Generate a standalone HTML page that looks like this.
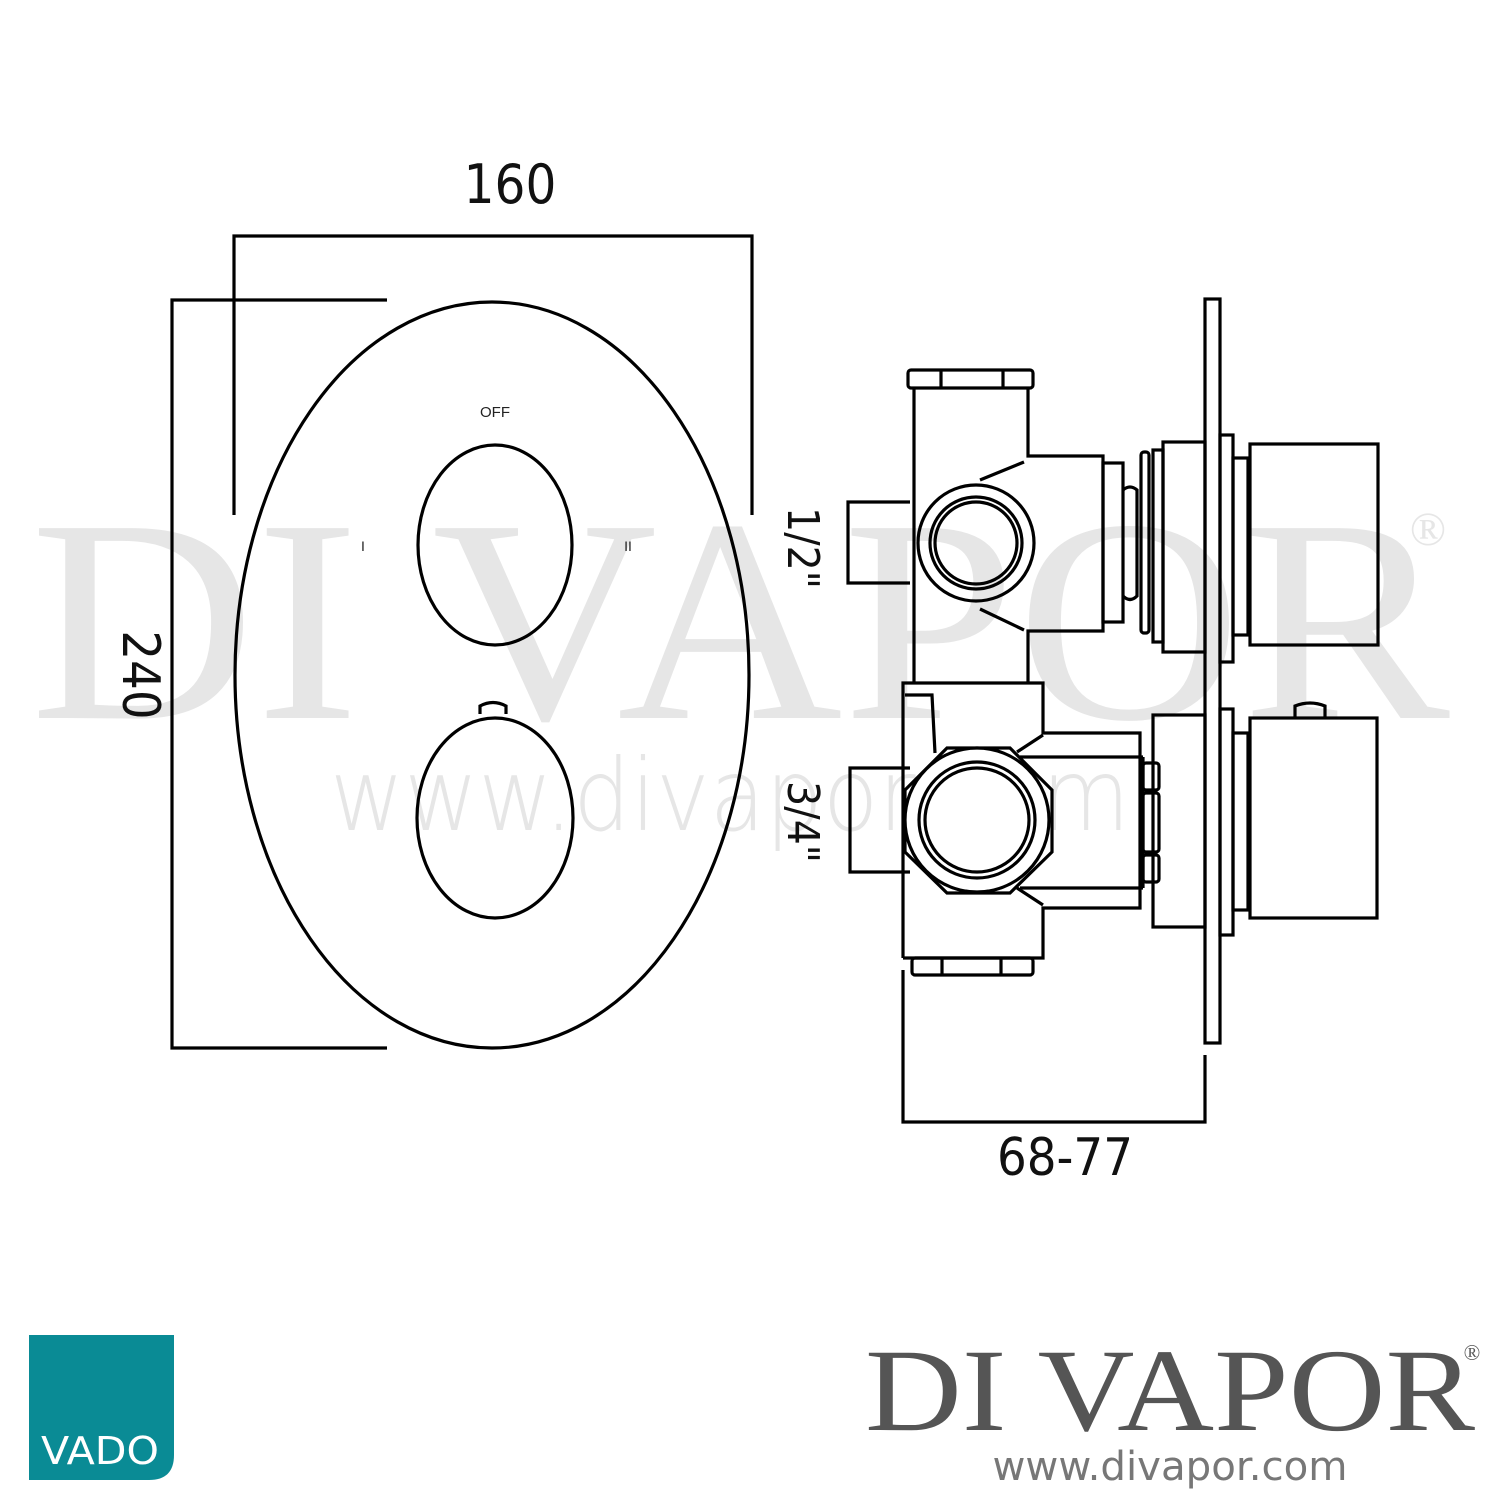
<!DOCTYPE html>
<html><head><meta charset="utf-8"><style>
html,body{margin:0;padding:0;background:#fff;width:1500px;height:1500px;overflow:hidden}
svg{display:block}
</style></head><body>
<svg width="1500" height="1500" viewBox="0 0 1500 1500" xmlns="http://www.w3.org/2000/svg">
<!-- watermark -->
<g fill="#e6e6e6" font-family="'Liberation Serif',serif">
<text x="740" y="718" font-size="290" text-anchor="middle" textLength="1420" lengthAdjust="spacingAndGlyphs">DI VAPOR</text>
<text x="1428" y="545" font-size="48" text-anchor="middle">®</text>
</g>
<text x="730" y="830" fill="#e6e6e6" font-family="'DejaVu Sans','Liberation Sans',sans-serif" font-weight="300" font-size="100" text-anchor="middle" textLength="800" lengthAdjust="spacingAndGlyphs">www.divapor.com</text>

<g fill="none" stroke="#000" stroke-width="3.2">
<!-- left dims -->
<polyline points="234,515 234,236 752,236 752,515"/>
<polyline points="387,300 172,300 172,1048 387,1048"/>
<ellipse cx="492" cy="675" rx="257" ry="373"/>
<ellipse cx="495" cy="545" rx="77" ry="100"/>
<ellipse cx="495" cy="818" rx="78" ry="100"/>
<path d="M480,714 L480,706 Q493,699 506,706 L506,714"/>

<!-- right side view -->
<rect x="1205" y="299" width="15" height="744"/>
<rect x="908" y="370" width="125" height="18" rx="3"/>
<line x1="941" y1="370" x2="941" y2="388"/><line x1="1003" y1="370" x2="1003" y2="388"/>
<polyline points="914,388 914,683"/>
<polyline points="1028,388 1028,456 1103,456 1103,631 1028,631 1028,683"/>
<rect x="1103" y="463" width="20" height="159"/>
<path d="M1123,490 Q1130,484 1137,490 L1137,596 Q1130,603 1123,596"/>
<rect x="1141" y="452" width="8" height="181" rx="3"/>
<rect x="1153" y="450" width="10" height="192"/>
<rect x="1163" y="442" width="42" height="210"/>
<rect x="1220" y="435" width="13" height="227"/>
<rect x="1233" y="458" width="15" height="177"/>
<rect x="1250" y="444" width="128" height="201"/>
<circle cx="976" cy="543" r="58"/>
<circle cx="976" cy="543" r="46"/>
<circle cx="976" cy="543" r="41"/>
<line x1="980" y1="480" x2="1024" y2="462"/>
<line x1="980" y1="609" x2="1024" y2="630"/>
<!-- 1/2 dim -->
<polyline points="910,502 848,502 848,583 910,583"/>
<!-- lower body -->
<polyline points="903,958 903,683 1043,683 1043,733 1140,733 1140,908 1043,908 1043,958 903,958"/>
<polyline points="905,695 932,695 935,753"/>
<line x1="1020" y1="757" x2="1143" y2="757"/>
<line x1="1020" y1="888" x2="1143" y2="888"/>
<line x1="1143" y1="757" x2="1143" y2="888"/>
<line x1="1017" y1="752" x2="1043" y2="735"/>
<line x1="1017" y1="888" x2="1043" y2="905"/>
<rect x="1143" y="763" width="16" height="27" rx="3"/>
<rect x="1143" y="793" width="16" height="59" rx="3"/>
<rect x="1143" y="855" width="16" height="27" rx="3"/>
<polygon points="947,748 1010,748 1052,790 1052,852 1010,893 947,893 905,852 905,790" fill="#fff"/>
<circle cx="977" cy="820" r="72" fill="#fff"/>
<circle cx="977" cy="820" r="58"/>
<circle cx="977" cy="820" r="52"/>
<rect x="1153" y="715" width="52" height="212"/>
<rect x="1220" y="709" width="13" height="226"/>
<rect x="1233" y="733" width="15" height="177"/>
<rect x="1250" y="718" width="127" height="200"/>
<path d="M1295,718 L1295,706 Q1310,700 1325,706 L1325,718"/>
<rect x="912" y="958" width="121" height="17" rx="3"/>
<line x1="942" y1="958" x2="942" y2="975"/><line x1="1001" y1="958" x2="1001" y2="975"/>
<polyline points="910,768 850,768 850,872 910,872"/>
<polyline points="903,970 903,1122 1205,1122 1205,1055"/>
</g>

<g font-family="'DejaVu Sans Condensed','DejaVu Sans',sans-serif" fill="#111">
<text x="510" y="203" font-size="54" text-anchor="middle">160</text>
<text x="1065" y="1175" font-size="52" text-anchor="middle">68-77</text>
<text transform="translate(123,675) rotate(90)" font-size="52" text-anchor="middle">240</text>
<text transform="translate(788,548) rotate(90)" font-size="44" text-anchor="middle">1/2"</text>
<text transform="translate(788,822) rotate(90)" font-size="44" text-anchor="middle">3/4"</text>
</g>
<g font-family="'Liberation Sans',sans-serif" fill="#222" text-anchor="middle">
<text x="495" y="417" font-size="15">OFF</text>
<text x="363" y="551" font-size="14">I</text>
<text x="628" y="551" font-size="14">II</text>
</g>

<!-- VADO logo -->
<path d="M29,1335 H174 V1455 Q174,1480 149,1480 H29 Z" fill="#0a8b95"/>
<text x="100" y="1464" fill="#fff" font-family="'DejaVu Sans','Liberation Sans',sans-serif" font-size="38" text-anchor="middle" textLength="118" lengthAdjust="spacingAndGlyphs">VADO</text>

<!-- DI VAPOR logo -->
<text x="1170" y="1430" fill="#555" font-family="'Liberation Serif',serif" font-size="118" text-anchor="middle" textLength="610" lengthAdjust="spacingAndGlyphs">DI VAPOR</text>
<text x="1472" y="1360" fill="#555" font-family="'Liberation Serif',serif" font-size="22" text-anchor="middle">®</text>
<text x="1170" y="1480" fill="#777" font-family="'DejaVu Sans','Liberation Sans',sans-serif" font-size="40" text-anchor="middle" textLength="355" lengthAdjust="spacingAndGlyphs">www.divapor.com</text>
</svg>
</body></html>
